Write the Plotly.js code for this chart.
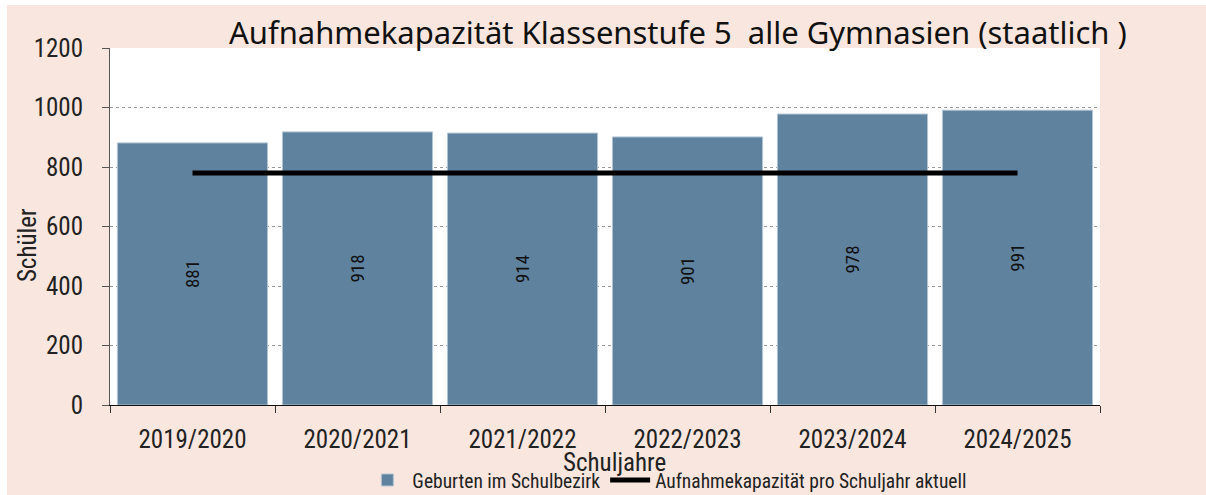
<!DOCTYPE html>
<html><head><meta charset="utf-8">
<script src="https://cdn.plot.ly/plotly-3.0.1.min.js"></script>
<style>
html,body{margin:0;padding:0;background:#ffffff;}
#chart{position:absolute;left:7px;top:5px;width:1199px;height:490px;}
</style></head>
<body><div id="chart"></div>
<script>
const schuljahre = ["2019/2020","2020/2021","2021/2022","2022/2023","2023/2024","2024/2025"];
const geburten = [881, 918, 914, 901, 978, 991];
const kapazitaet = [780, 780, 780, 780, 780, 780];
const yTicks = [0, 200, 400, 600, 800, 1000, 1200];

const narrow = "Roboto Condensed, sans-serif";

const traces = [
  {
    type: "bar", x: schuljahre, y: geburten, name: "Geburten im Schulbezirk",
    marker: {color: "#5f829f", line: {color: "#b3c4d2", width: 1}},
    text: geburten.map(String), textposition: "inside", insidetextanchor: "middle",
    textangle: -90, textfont: {family: narrow, size: 19, color: "#111"},
    hoverinfo: "x+y"
  },
  {
    type: "scatter", mode: "lines", x: schuljahre, y: kapazitaet,
    name: "Aufnahmekapazität pro Schuljahr aktuell",
    line: {color: "#000", width: 5, shape: "linear"}
  }
];

const layout = {
  width: 1199, height: 490,
  paper_bgcolor: "#f9e7df", plot_bgcolor: "#ffffff",
  margin: {l: 103, r: 106, t: 43, b: 90},
  bargap: 0.09,
  showlegend: true,
  title: {
    text: "Aufnahmekapazität Klassenstufe 5\u00a0 alle Gymnasien (staatlich )",
    font: {family: "Noto Sans, sans-serif", size: 31, color: "#111"},
    xref: "container", x: 0.5596, xanchor: "center",
    yref: "container", y: 0.943, yanchor: "middle"
  },
  xaxis: {
    type: "category", showline: true, linecolor: "#111", linewidth: 1,
    ticks: "outside", ticklen: 7, tickcolor: "#333", tickson: "boundaries",
    tickfont: {family: narrow, size: 25, color: "#222"},
    ticklabelstandoff: 12,
    showgrid: false
  },
  yaxis: {
    range: [0, 1200], tickvals: yTicks, ticktext: yTicks.map(String),
    showline: true, linecolor: "#555", linewidth: 1,
    ticks: "outside", ticklen: 7, tickcolor: "#555",
    tickfont: {family: narrow, size: 25, color: "#222"},
    ticklabelstandoff: 14,
    showgrid: true, gridcolor: "#9a9a9a", griddash: "dot", gridwidth: 1,
    zeroline: false
  },
  annotations: [
    {text: "Schuljahre", showarrow: false, xref: "paper", x: 0.510, xanchor: "center",
     yref: "paper", y: -0.1597, yanchor: "middle",
     font: {family: narrow, size: 25, color: "#222"}},
    {text: "Schüler", showarrow: false, textangle: -90, xref: "paper", x: -0.0838, xanchor: "center",
     yref: "paper", y: 0.448, yanchor: "middle",
     font: {family: narrow, size: 25, color: "#222"}}
  ],
  legend: {
    orientation: "h", x: 0.563, xanchor: "center", xref: "paper",
    y: 0.03, yanchor: "middle", yref: "container",
    font: {family: narrow, size: 19.5, color: "#222"},
    bgcolor: "rgba(0,0,0,0)", itemwidth: 40, tracegroupgap: 0
  }
};

Plotly.newPlot("chart", traces, layout, {displayModeBar: false, staticPlot: true});
</script></body></html>
